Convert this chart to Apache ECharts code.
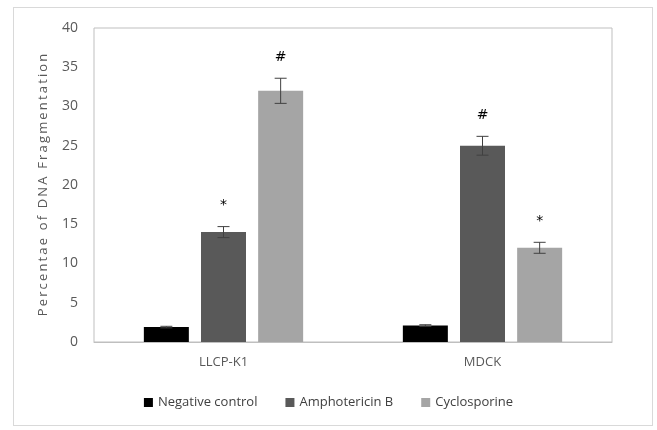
<!DOCTYPE html>
<html><head><meta charset="utf-8">
<script src="https://cdn.jsdelivr.net/npm/echarts@6/dist/echarts.min.js"></script>
<style>html,body{margin:0;padding:0;background:#fff}#c{width:657px;height:430px}
#frame{position:absolute;left:13px;top:7px;width:640px;height:419px;border:1px solid #d9d9d9;box-sizing:border-box;pointer-events:none}</style>
</head><body><div id="c"></div><div id="frame"></div>
<script>
const categories = ['LLCP-K1', 'MDCK'];
const seriesNames = ['Negative control', 'Amphotericin B', 'Cyclosporine'];
const negativeControl = [1.9, 2.1];
const amphotericinB = [14, 25];
const cyclosporine = [32, 12];
const negativeErr = [0.1, 0.1];
const amphotericinErr = [0.7, 1.2];
const cyclosporineErr = [1.6, 0.7];
const negativeMark = ['', ''];
const amphotericinMark = ['*', '#'];
const cyclosporineMark = ['#', '*'];
const yTicks = [0, 5, 10, 15, 20, 25, 30, 35, 40];
const yAxisTitle = 'Percentae of DNA Fragmentation';

const colors = ['#000000', '#595959', '#a5a5a5'];
const values = [negativeControl, amphotericinB, cyclosporine];
const errs = [negativeErr, amphotericinErr, cyclosporineErr];
const marks = [negativeMark, amphotericinMark, cyclosporineMark];
const BW = 45, GAP = '27%', CATGAP = '38.6%';
const font = 'Open Sans';

const series = [];
values.forEach((v, i) => {
  series.push({
    name: seriesNames[i], type: 'bar', data: v, barWidth: BW, barGap: GAP, barCategoryGap: CATGAP,
    itemStyle: { color: colors[i] }
  });
});
values.forEach((v, i) => {
  series.push({
    type: 'custom', name: 'err' + i, silent: true, z: 10,
    data: v.map((val, j) => [j, val, errs[i][j]]),
    renderItem: function (params, api) {
      const cat = api.value(0), val = api.value(1), e = api.value(2);
      const mark = marks[i][cat];
      const layout = api.barLayout({ barWidth: BW, barGap: GAP, barCategoryGap: CATGAP, count: 3 });
      const off = layout[i].offsetCenter;
      const hi = api.coord([cat, val + e]);
      const lo = api.coord([cat, val - e]);
      const x = hi[0] + off;
      const cap = 6;
      const st = { stroke: '#404040', lineWidth: 1 };
      const children = [
        { type: 'line', shape: { x1: x, y1: hi[1], x2: x, y2: lo[1] }, style: st },
        { type: 'line', shape: { x1: x - cap, y1: hi[1], x2: x + cap, y2: hi[1] }, style: st },
        { type: 'line', shape: { x1: x - cap, y1: lo[1], x2: x + cap, y2: lo[1] }, style: st }
      ];
      if (mark) {
        children.push({ type: 'text', style: { text: mark, x: x, y: hi[1] - 14, align: 'center', verticalAlign: 'bottom', fill: '#000', font: '14px "DejaVu Sans"' } });
      }
      return { type: 'group', children: children };
    }
  });
});

const chart = echarts.init(document.getElementById('c'));
chart.setOption({
  animation: false,
  backgroundColor: '#fff',
  color: colors,
  grid: { left: 94, right: 45, top: 28, bottom: 88, show: true, borderColor: '#bfbfbf', borderWidth: 1 },
  legend: {
    data: seriesNames, bottom: 16, left: 'center', itemWidth: 9, itemHeight: 9, itemGap: 28, icon: 'rect',
    textStyle: { color: '#404040', fontSize: 13, fontFamily: font }
  },
  xAxis: {
    type: 'category', data: categories,
    axisLine: { lineStyle: { color: '#bfbfbf' } }, axisTick: { show: false },
    axisLabel: { color: '#595959', fontSize: 13, fontFamily: font, margin: 14 }
  },
  yAxis: {
    type: 'value', min: yTicks[0], max: yTicks[yTicks.length - 1], interval: yTicks[1] - yTicks[0],
    splitLine: { show: false }, axisLine: { show: false }, axisTick: { show: false },
    axisLabel: { color: '#595959', fontSize: 14, fontFamily: font, margin: 16 },
    name: yAxisTitle.split('').join('\u2009'),
    nameLocation: 'middle', nameGap: 44, nameRotate: 90,
    nameTextStyle: { color: '#595959', fontSize: 13, fontFamily: font }
  },
  series: series
});
</script></body></html>
